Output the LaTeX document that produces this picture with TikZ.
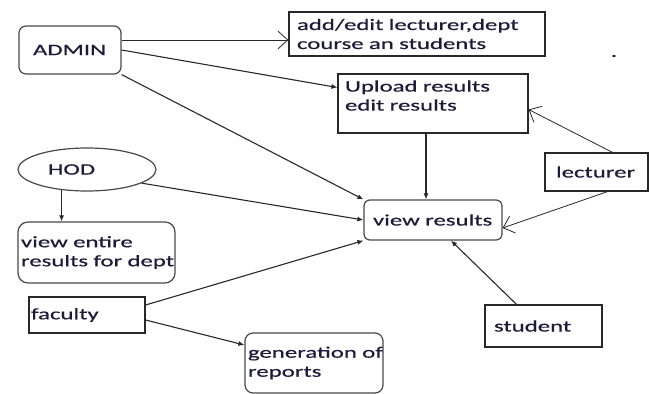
\documentclass[tikz,border=0pt]{standalone}
\usepackage{fontspec}
\setmainfont{Carlito}[FakeStretch=1.55, FakeBold=0.6]
\usetikzlibrary{positioning, arrows.meta, shapes.geometric}
\definecolor{ink}{RGB}{28,28,58}
\definecolor{edge}{RGB}{40,40,40}
\tikzset{
  sbox/.style={draw=edge, line width=1.2pt, align=left, inner ysep=1pt, text=ink},
  rbox/.style={sbox, draw=edge!85, rounded corners=7pt},
  fillarr/.style={-{Latex[length=6pt,width=5pt]}, draw=edge, line width=1.1pt},
  openarr/.style={-{Straight Barb[length=10pt,width=18pt]}, draw=edge, line width=0.8pt}
}
\begin{document}
\begin{tikzpicture}
	[x=1pt, y=-1pt, on grid, font=\fontsize{16}{19}\selectfont]
   \useasboundingbox (0,0) rectangle (649,394);
   \node[rbox, text width=74pt, inner xsep=14pt, minimum height=48pt] (admin) at (70,50) {ADMIN};
   \node[sbox, text width=240pt, inner xsep=8pt, minimum height=44pt] (add) [above right=16pt and 347pt of admin] {add/edit lecturer,dept\\course an students};
   \node[sbox, text width=176pt, inner xsep=7pt, minimum height=59pt, text depth=35pt] (upload) [below right=53.5pt and 363pt of admin] {Upload results\\edit results};
   \node[rbox, rounded corners=6pt, text width=120pt, inner xsep=9pt, minimum height=40pt] (view) [below=116.5pt of upload] {view~results};
   \node[sbox, text width=81pt, inner xsep=11pt, minimum height=38pt] (lecturer) [below right=68.5pt and 163.5pt of upload] {lecturer};
   \node[sbox, text width=99pt, inner xsep=9pt, minimum height=42pt] (student) [below right=106pt and 110.5pt of view] {student};
   \node[ellipse, draw=edge!85, line width=1.2pt, text=ink, align=left, text width=78pt, inner sep=0pt, minimum width=138pt, minimum height=43pt] (hod) [below right=119.5pt and 17pt of admin] {HOD};
   \node[rbox, rounded corners=10pt, text width=151pt, inner xsep=3pt, minimum height=61pt] (entire) [below right=83pt and 9.5pt of hod] {view entire\\results~for~dept};
   \node[sbox, text width=112pt, inner xsep=2pt, minimum height=36pt] (faculty) [below=145.5pt of hod] {faculty};
   \node[rbox, rounded corners=8pt, text width=132pt, inner xsep=3pt, minimum height=60pt] (gen) [below right=48pt and 227pt of faculty] {generation~of\\reports};
   \node[text=ink] (dot) at (614,56) {.};
    \draw[openarr] ([yshift=10pt]admin.east) -- ([yshift=-6pt]add.west);
    \draw[fillarr] (admin.east) -- ([yshift=16pt]upload.west);
    \draw[fillarr] (admin.south east) -- (view.north west);
    \draw[fillarr] (hod.-14) -- (view.west);
    \draw[fillarr] (hod.219) -- (hod.219 |- entire.north);
    \draw[fillarr] ([yshift=10pt]faculty.east) -- (view.south west);
    \draw[fillarr] ([yshift=-5pt]faculty.east) -- ([yshift=18pt]gen.west);
    \draw[fillarr] ([xshift=-7pt]upload.south) -- ([xshift=-7pt]upload.south |- view.north);
    \draw[openarr] ([xshift=16pt]lecturer.north) -- ([yshift=-6pt]upload.east);
    \draw[openarr] ([xshift=11pt]lecturer.south) -- ([yshift=-8pt]view.east);
    \draw[fillarr] ([xshift=-27pt]student.north) -- ([xshift=18pt]view.south);
\end{tikzpicture}
\end{document}
